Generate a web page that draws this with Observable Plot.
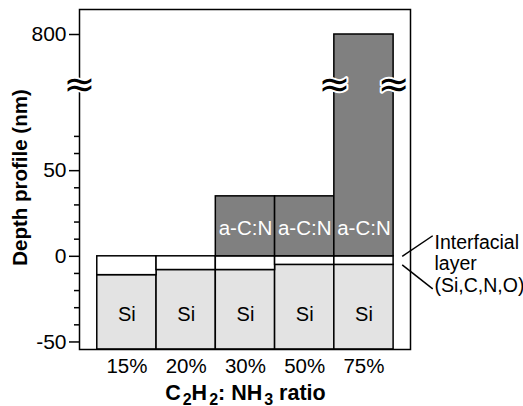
<!DOCTYPE html>
<html>
<head>
<meta charset="utf-8">
<script src="https://cdn.jsdelivr.net/npm/d3@7"></script>
<script src="https://cdn.jsdelivr.net/npm/@observablehq/plot@0.6"></script>
<style>
  html, body { margin: 0; padding: 0; background: white; }
  svg { display: block; }
</style>
</head>
<body>
<div id="chart"></div>
<script>
// ---- data ----
const categories = ["15%", "20%", "30%", "50%", "75%"];
const siTop = [-11, -8, -8, -5, -5];          // top of Si substrate (nm)
const interfaceTop = [0, 0, 0, 0, 0];         // top of interfacial layer (nm)
const acnTop = [null, null, 35, 35, 800];     // top of a-C:N film (nm)
const yMajorTicks = [-50, 0, 50, 800];
const yMinorTicks = [-40, -30, -20, -10, 10, 20, 30, 40, 60, 70];
const yBreak = 100;
const yBottom = -54.4;
const yTop = 850;
const siLabel = "Si";
const acnLabel = "a-C:N";
const annotation = "Interfacial\nlayer\n(Si,C,N,O)";
const xTitle = "C2H2: NH3 ratio";
const yTitle = "Depth profile (nm)";

// ---- build ----
const rows = categories.map((c, i) => ({i, cat: c, si: siTop[i], it: interfaceTop[i], acn: acnTop[i]}));
const xDomain = [-0.8, 4.785];
const font = "Liberation Sans, Arial, sans-serif";
const last = rows[rows.length - 1];

const plot = Plot.plot({
  width: 523,
  height: 406,
  marginLeft: 79,
  marginRight: 113,
  marginTop: 9,
  marginBottom: 57,
  style: {fontFamily: font, fontSize: "20px", color: "black", background: "white"},
  x: {type: "linear", domain: xDomain, axis: null},
  y: {type: "linear", domain: [yBottom, yBreak, 800, yTop], range: [349, 84.5, 34, 9], axis: null},
  marks: [
    Plot.rect(rows, {x1: d => d.i - 0.5, x2: d => d.i + 0.5, y1: () => yBottom, y2: "si", fill: "#e3e3e3", stroke: "black", strokeWidth: 1.5}),
    Plot.rect(rows, {x1: d => d.i - 0.5, x2: d => d.i + 0.5, y1: "si", y2: "it", fill: "white", stroke: "black", strokeWidth: 1.5}),
    Plot.rect(rows.filter(d => d.acn != null), {x1: d => d.i - 0.5, x2: d => d.i + 0.5, y1: "it", y2: "acn", fill: "#808080", stroke: "black", strokeWidth: 1.5}),
    Plot.frame({stroke: "black", strokeWidth: 1.5}),
    // y tick marks
    Plot.axisY({ticks: yMajorTicks, tickSize: 10, tickFormat: () => "", label: null, strokeWidth: 1.5}),
    Plot.axisY({ticks: yMinorTicks, tickSize: 5, tickFormat: () => "", label: null, strokeWidth: 1.5}),
    // y tick labels
    Plot.text(yMajorTicks, {x: () => xDomain[0], y: d => d, dx: -13, text: d => String(d), textAnchor: "end", fontSize: 21, fill: "black"}),
    // x tick labels
    Plot.text(rows, {x: "i", y: () => yBottom, dy: 17, text: "cat", fontSize: 20.5, fill: "black"}),
    // axis break squiggles
    Plot.text([{x: xDomain[0]}, {x: last.i - 0.5}, {x: last.i + 0.5}], {
      x: "x", y: () => yBreak, text: () => "\u2248", fontSize: 38, fontFamily: "DejaVu Sans",
      fill: "black", stroke: "white", strokeWidth: 4, paintOrder: "stroke"
    }),
    Plot.text(rows, {x: "i", y: () => -34, text: () => siLabel, fill: "black", fontSize: 20}),
    Plot.text(rows.filter(d => d.acn != null), {x: "i", y: () => 16, text: () => acnLabel, fill: "white", fontSize: 20.5}),
    // annotation leader lines
    Plot.link([{y: last.it, y2: last.it + 12}, {y: last.si, y2: last.si - 14}], {
      x1: () => last.i + 0.645, x2: () => last.i + 1.16, y1: "y", y2: "y2", stroke: "black", strokeWidth: 1.5
    }),
    Plot.text([annotation], {x: () => last.i + 1.19, y: () => -4.2, text: d => d, textAnchor: "start", lineHeight: 1.1, fontSize: 19.5, fill: "black"}),
    Plot.text([xTitle], {x: () => (categories.length - 1) / 2, frameAnchor: "bottom", dy: 50, text: d => d, fontWeight: "bold", fontSize: 21.5, fill: "black"}),
    Plot.text([yTitle], {x: () => xDomain[0], y: () => 46, dx: -59, rotate: -90, text: d => d, fontWeight: "bold", fontSize: 20.5, fill: "black"})
  ]
});

// subscripts in x title
plot.querySelectorAll("text").forEach(t => {
  if (t.textContent === xTitle) {
    t.textContent = "";
    const parts = [["C", 0], ["2", 1], ["H", 0], ["2", 1], [": NH", 0], ["3", 1], [" ratio", 0]];
    let shifted = false;
    for (const [s, sub] of parts) {
      const ts = document.createElementNS("http://www.w3.org/2000/svg", "tspan");
      ts.textContent = s;
      if (sub) { ts.setAttribute("font-size", "16"); ts.setAttribute("dy", "5"); ts.setAttribute("dx", "2"); shifted = true; }
      else if (shifted) { ts.setAttribute("dy", "-5"); shifted = false; }
      t.appendChild(ts);
    }
  }
});

document.getElementById("chart").appendChild(plot);
</script>
</body>
</html>
